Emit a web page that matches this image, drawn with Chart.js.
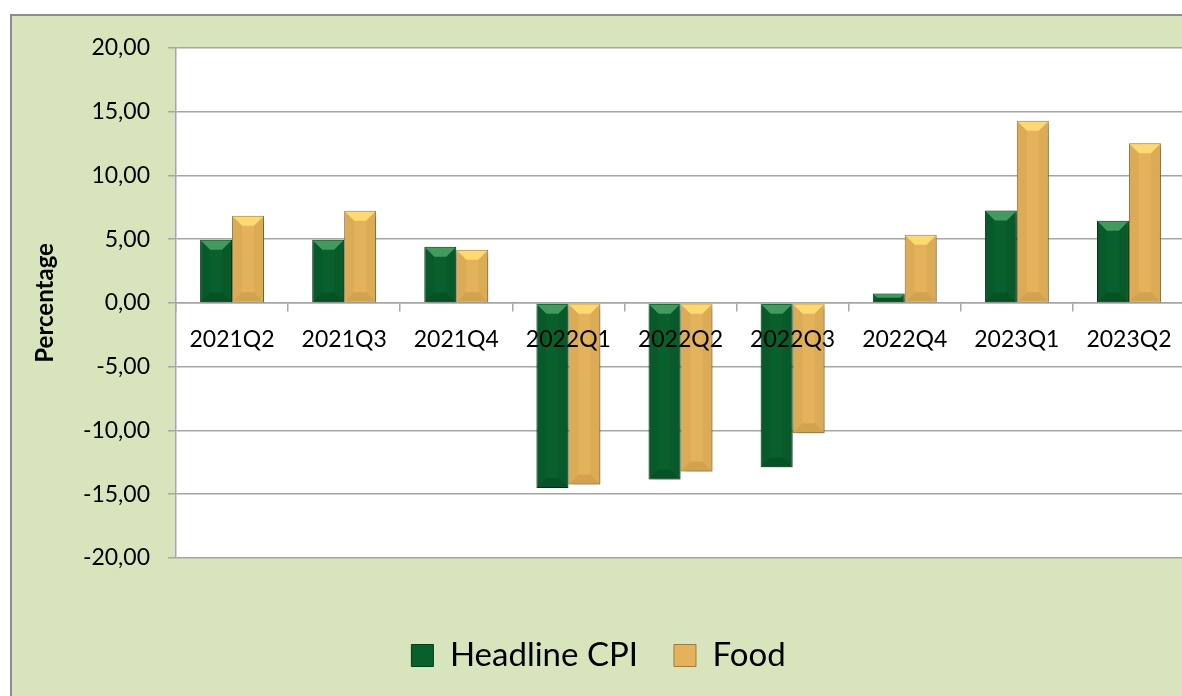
<!DOCTYPE html>
<html>
<head>
<meta charset="utf-8">
<script src="https://cdn.jsdelivr.net/npm/chart.js@4.4.1/dist/chart.umd.min.js"></script>
<style>
  html, body { margin: 0; padding: 0; background: #fff; overflow: hidden; }
  #frame { position: absolute; left: 10px; top: 14px; width: 1190px; height: 690px;
           border: 2px solid #8c8c8c; background: #d8e4bc; }
  #chart { display: block; }
</style>
</head>
<body>
<div id="frame"><canvas id="chart" width="1190" height="690"></canvas></div>
<script>
const quarters = ['2021Q2', '2021Q3', '2021Q4', '2022Q1', '2022Q2', '2022Q3', '2022Q4', '2023Q1', '2023Q2'];
const headlineCpi = [4.95, 4.95, 4.41, -14.52, -13.84, -12.88, 0.74, 7.25, 6.45];
const food = [6.84, 7.23, 4.16, -14.23, -13.22, -10.22, 5.35, 14.28, 12.51];

Chart.defaults.font.family = 'Lato';
Chart.defaults.color = '#000';

const gridGray = '#a6a6a6';

// white plot area on the green frame
const plotBg = {
  id: 'plotBg',
  beforeDraw(chart) {
    const { ctx, chartArea: a } = chart;
    ctx.save();
    ctx.fillStyle = '#fff';
    ctx.fillRect(a.left, a.top, a.right - a.left, a.bottom - a.top);
    ctx.restore();
  }
};

// shadow under the bars and a bevelled face like the Excel original
const bevel = {
  id: 'bevel',
  beforeDatasetsDraw(chart) {
    const ctx = chart.ctx;
    ctx.save();
    ctx.shadowColor = 'rgba(0,0,0,0.35)';
    ctx.shadowBlur = 6;
    ctx.shadowOffsetX = 2;
    ctx.shadowOffsetY = 3;
  },
  afterDatasetsDraw(chart) {
    const ctx = chart.ctx;
    ctx.restore();
    chart.data.datasets.forEach((ds, i) => {
      chart.getDatasetMeta(i).data.forEach(bar => {
        const p = bar.getProps(['x', 'y', 'base', 'width'], true);
        const l = p.x - p.width / 2 + 1, r = p.x + p.width / 2 - 1;
        const t = Math.min(p.y, p.base) + 1, b = Math.max(p.y, p.base) - 1;
        const d = Math.min(9, (b - t) / 2);
        if (d <= 0) return;
        ctx.save();
        ctx.fillStyle = ds.bevelTop;
        ctx.beginPath();
        ctx.moveTo(l, t); ctx.lineTo(r, t); ctx.lineTo(r - d, t + d); ctx.lineTo(l + d, t + d);
        ctx.closePath(); ctx.fill();
        ctx.fillStyle = ds.bevelBottom;
        ctx.beginPath();
        ctx.moveTo(l, b); ctx.lineTo(r, b); ctx.lineTo(r - d, b - d); ctx.lineTo(l + d, b - d);
        ctx.closePath(); ctx.fill();
        ctx.fillStyle = ds.bevelSide;
        ctx.beginPath();
        ctx.moveTo(l, t); ctx.lineTo(l + d, t + d); ctx.lineTo(l + d, b - d); ctx.lineTo(l, b);
        ctx.closePath(); ctx.fill();
        ctx.beginPath();
        ctx.moveTo(r, t); ctx.lineTo(r - d, t + d); ctx.lineTo(r - d, b - d); ctx.lineTo(r, b);
        ctx.closePath(); ctx.fill();
        ctx.restore();
      });
    });
  }
};

const data = {
  labels: quarters,
  datasets: [
    {
      label: 'Headline CPI',
      data: headlineCpi,
      backgroundColor: '#0a602d',
      borderColor: '#053a1a',
      borderWidth: 1,
      bevelTop: 'rgba(90,180,115,0.7)',
      bevelBottom: 'rgba(0,30,10,0.22)',
      bevelSide: 'rgba(0,0,0,0.06)'
    },
    {
      label: 'Food',
      data: food,
      backgroundColor: '#e4b25a',
      borderColor: '#9f7c3c',
      borderWidth: 1,
      bevelTop: 'rgba(255,222,115,0.9)',
      bevelBottom: 'rgba(120,80,20,0.16)',
      bevelSide: 'rgba(0,0,0,0.04)'
    }
  ]
};

const config = {
  type: 'bar',
  data: data,
  options: {
    responsive: false,
    animation: false,
    categoryPercentage: 0.57,
    barPercentage: 1.0,
    layout: {
      padding: { top: 31, right: 17, left: 0, bottom: 24 }
    },
    plugins: {
      tooltip: { enabled: false },
      legend: {
        position: 'bottom',
        labels: {
          boxWidth: 22,
          boxHeight: 22,
          padding: 36,
          font: { size: 33 }
        }
      }
    },
    scales: {
      x: {
        position: { y: 0 },
        grid: {
          display: true,
          drawOnChartArea: false,
          drawTicks: true,
          tickLength: 8,
          color: gridGray,
          lineWidth: 1.5
        },
        border: { display: true, color: gridGray, width: 1.5 },
        ticks: { padding: 15, font: { size: 23 }, z: 1 }
      },
      xPad: {
        type: 'category',
        position: 'bottom',
        display: true,
        grid: { display: false },
        border: { display: false },
        ticks: { display: false },
        afterFit: s => { s.height = 45; }
      },
      y: {
        min: -20,
        max: 20,
        afterFit: s => { s.width = 164; },
        ticks: {
          stepSize: 5,
          padding: 18,
          font: { size: 23 },
          callback: v => v.toFixed(2).replace('.', ',')
        },
        grid: { color: gridGray, lineWidth: 1.5, tickLength: 8 },
        border: { color: gridGray, width: 1.5 },
        title: {
          display: true,
          text: 'Percentage',
          font: { size: 24, weight: 'bold' },
          padding: { top: 19, bottom: 0 }
        }
      }
    }
  },
  plugins: [plotBg, bevel]
};

const chart = new Chart(document.getElementById('chart'), config);
</script>
</body>
</html>
